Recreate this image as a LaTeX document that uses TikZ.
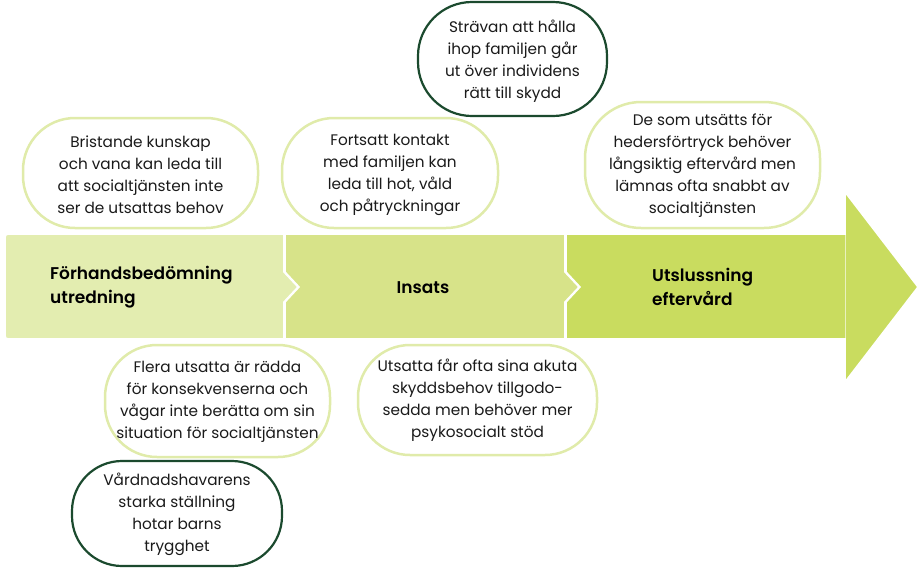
\documentclass[tikz,border=0pt]{standalone}
\usepackage{fontspec}
\setmainfont{Poppins}[BoldFont={Poppins SemiBold}]
\definecolor{segA}{HTML}{E3EDB0}
\definecolor{segB}{HTML}{D7E389}
\definecolor{segC}{HTML}{C9DC5F}
\definecolor{lightrim}{HTML}{E0EBAA}
\definecolor{darkrim}{HTML}{1B4A2E}
\definecolor{txt}{HTML}{1A1A1A}
\newcommand\pillbox[6]{%
 \pgfmathsetmacro\pbA{#2+#6}\pgfmathsetmacro\pbB{#4-#6}%
 \pgfmathsetmacro\pbC{#3+#6}\pgfmathsetmacro\pbD{#5-#6}%
 \pgfmathsetmacro\pbk{0.4477*#6}%
 \pgfmathsetmacro\pbE{#2+\pbk}\pgfmathsetmacro\pbF{#4-\pbk}%
 \pgfmathsetmacro\pbG{#3+\pbk}\pgfmathsetmacro\pbH{#5-\pbk}%
 \draw[#1] (\pbA,#3) -- (\pbB,#3) .. controls (\pbF,#3) and (#4,\pbG) .. (#4,\pbC) -- (#4,\pbD) .. controls (#4,\pbH) and (\pbF,#5) .. (\pbB,#5) -- (\pbA,#5) .. controls (\pbE,#5) and (#2,\pbH) .. (#2,\pbD) -- (#2,\pbC) .. controls (#2,\pbG) and (\pbE,#3) .. (\pbA,#3) -- cycle;}
\begin{document}
\begin{tikzpicture}[x=1pt,y=-1pt,
  btext/.style={align=center, text=txt, inner sep=0pt, font=\fontsize{15.3}{22}\selectfont},
  rimlight/.style={draw=lightrim, line width=2.5pt, fill=white},
  rimdark/.style={draw=darkrim, line width=2.2pt, fill=white},
  seglabel/.style={font=\bfseries\fontsize{17}{24}\selectfont, text=black, align=left, inner sep=0pt},
  segment/.style={draw=white, line width=1.6pt, line join=miter}
]
\useasboundingbox (0,0) rectangle (918,568);
% arrow band
\path[segment, fill=segA] (298,287) -- (284,302) -- (284,339) -- (12,339) .. controls (5,339) .. (5,332) -- (5,241) .. controls (5,234) .. (12,234) -- (284,234) -- (284,272) -- cycle;
\path[segment, fill=segB] (285,234) -- (565,234) -- (565,272) -- (579,287) -- (565,302) -- (565,339) -- (285,339) -- (285,302) -- (299,287) -- (285,272) -- cycle;
\path[segment, fill=segC] (566,234) -- (845,234) -- (845,192) -- (918,287) -- (845,382) -- (845,339) -- (566,339) -- (566,302) -- (580,287) -- (566,272) -- cycle;
\draw[white, line width=0.6pt, opacity=0.6] (845,234) -- (845,339);
% stage labels
\node[seglabel, anchor=west] (s1) at (50,287) {Förhandsbedömning\\utredning};
\node[seglabel] (s2) at (423,288) {Insats};
\node[seglabel, anchor=west] (s3) at (652,287) {Utslussning\\eftervård};
% bubble outlines
\pillbox{rimlight}{23}{118}{258}{228}{52}
\pillbox{rimlight}{282}{118}{498}{228}{52}
\pillbox{rimdark}{418}{2}{607}{116}{54}
\pillbox{rimlight}{585}{102}{820}{228}{56}
\pillbox{rimlight}{105}{345}{330}{457}{52}
\pillbox{rimlight}{358}{345}{597}{455}{52}
\pillbox{rimdark}{72}{461}{282}{566}{50}
% bubble texts
\node[btext] (b1) at (140.5,175) {Bristande kunskap\\och vana kan leda till\\att socialtjänsten inte\\ser de utsattas behov};
\node[btext] (b2) at (390,175) {Fortsatt kontakt\\med familjen kan\\leda till hot, våld\\och påtryckningar};
\node[btext] (b3) at (512.5,61) {Strävan att hålla\\ihop familjen går\\ut över individens\\rätt till skydd};
\node[btext] (b4) at (702.5,166) {De som utsätts för\\hedersförtryck behöver\\långsiktig eftervård men\\lämnas ofta snabbt av\\socialtjänsten};
\node[btext] (b5) at (217.5,402) {Flera utsatta är rädda\\för konsekvenserna och\\vågar inte berätta om sin\\situation för socialtjänsten};
\node[btext] (b6) at (477.5,400) {Utsatta får ofta sina akuta\\skyddsbehov tillgodo-\\sedda men behöver mer\\psykosocialt stöd};
\node[btext] (b7) at (177,514) {Vårdnadshavarens\\starka ställning\\hotar barns\\trygghet};
\end{tikzpicture}
\end{document}
